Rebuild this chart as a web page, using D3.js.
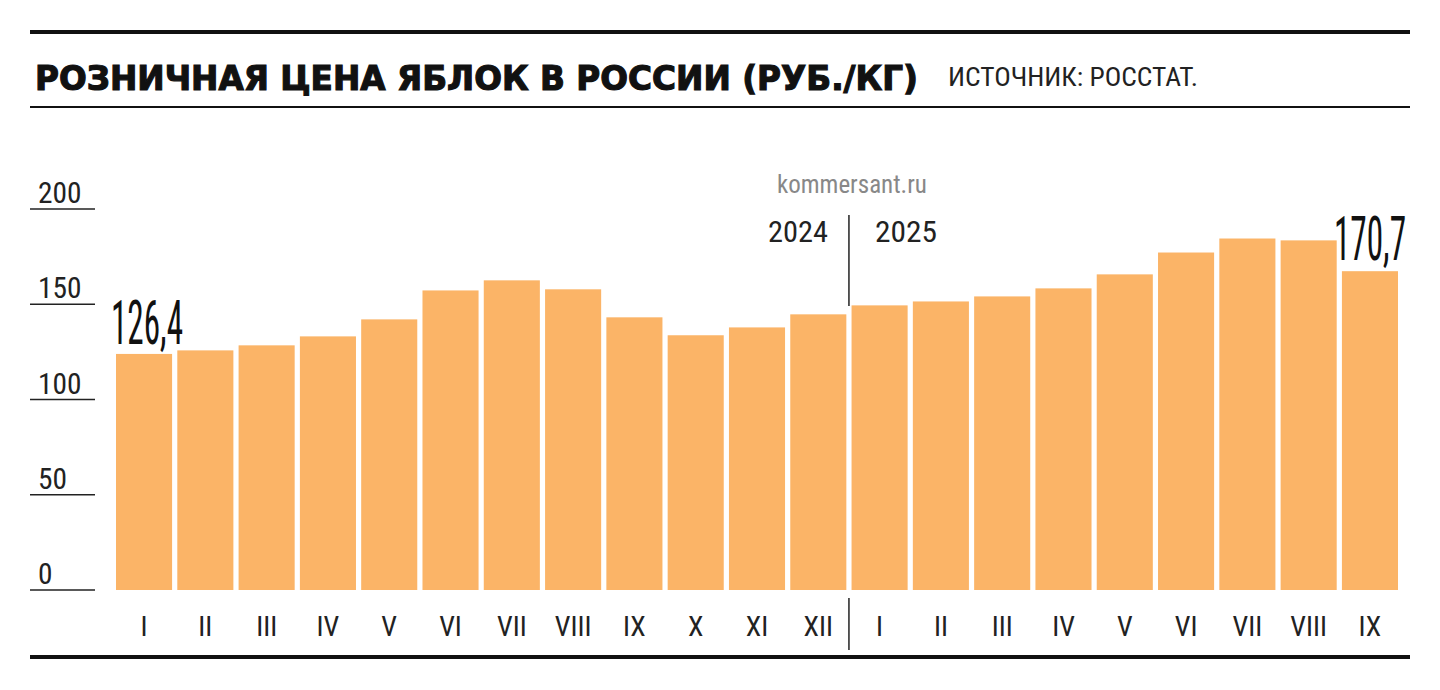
<!DOCTYPE html>
<html><head><meta charset="utf-8">
<script src="https://cdn.jsdelivr.net/npm/d3@7"></script>
<style>
body{margin:0;background:#fff}
text{font-family:"Liberation Sans Narrow","Roboto Condensed","Liberation Sans",sans-serif}
</style></head><body>
<script>
var months = ["I","II","III","IV","V","VI","VII","VIII","IX","X","XI","XII",
              "I","II","III","IV","V","VI","VII","VIII","IX"];
var prices = [126.4,128.3,131,135.8,144.9,160.4,165.8,161,146,136.4,140.6,147.6,
              152.4,154.5,157.2,161.5,169,180.7,188.2,187.2,170.7];
var yTicks = [0,50,100,150,200];

var width = 1440, height = 690;
var svg = d3.select("body").append("svg").attr("width", width).attr("height", height);

// rules
svg.append("rect").attr("x",30).attr("y",30).attr("width",1380).attr("height",4).attr("fill","#111");
svg.append("rect").attr("x",30).attr("y",106).attr("width",1380).attr("height",2).attr("fill","#111");
svg.append("rect").attr("x",30).attr("y",655).attr("width",1380).attr("height",4).attr("fill","#111");

svg.append("text").attr("x",35).attr("y",90).text("РОЗНИЧНАЯ ЦЕНА ЯБЛОК В РОССИИ (РУБ./КГ)")
    .attr("textLength",883).attr("lengthAdjust","spacingAndGlyphs")
    .style("font-family","'DejaVu Sans',sans-serif").style("font-weight","bold").style("font-size","34px")
    .attr("fill","#111").attr("stroke","#111").attr("stroke-width",1.2);
svg.append("text").attr("x",948).attr("y",86).text("ИСТОЧНИК: РОССТАТ.")
    .attr("textLength",250).attr("lengthAdjust","spacingAndGlyphs")
    .style("font-size","25px").attr("fill","#222");

var x = d3.scaleBand().domain(d3.range(months.length)).range([116, 1398]).paddingInner(0.085);
var y = d3.scaleLinear().domain([0, 204]).range([590, 209]);
// tick rules are drawn a touch above the data scale, as in the print
var yTick = d3.scaleLinear().domain([0, 200]).range([590, 209]);

var yt = svg.append("g");
yTicks.forEach(function(t){
    var yy = yTick(t);
    yt.append("line").attr("x1",30).attr("x2",95).attr("y1",yy).attr("y2",yy).attr("stroke","#222").attr("stroke-width",1.5);
    yt.append("text").attr("x",38).attr("y",yy-6).text(t).style("font-size","30px")
        .attr("textLength", String(t).length * 14.5).attr("lengthAdjust","spacingAndGlyphs").attr("fill","#222");
});

svg.append("g").selectAll("rect").data(prices).join("rect")
    .attr("x", function(d,i){ return x(i); })
    .attr("y", function(d){ return y(d); })
    .attr("width", x.bandwidth())
    .attr("height", function(d){ return y(0) - y(d); })
    .attr("fill","#fbb467");

svg.append("g").selectAll("text").data(months).join("text")
    .attr("x", function(d,i){ return x(i) + x.bandwidth()/2; })
    .attr("y", 636).attr("text-anchor","middle").text(function(d){ return d; })
    .style("font-size","28px").attr("fill","#222");

// value labels (tall condensed)
var fmt = function(v){ return String(v).replace(".", ","); };
svg.append("text").attr("x", x(0) - 5).attr("y", y(prices[0]) - 10).text(fmt(prices[0]))
    .style("font-size","62px").attr("textLength",72).attr("lengthAdjust","spacingAndGlyphs").attr("fill","#111");
svg.append("text").attr("x", x(20) + x.bandwidth() + 8 - 72).attr("y", y(prices[20]) - 11)
    .text(fmt(prices[20])).style("font-size","62px").attr("textLength",72).attr("lengthAdjust","spacingAndGlyphs").attr("fill","#111");

// year separator
var sx = (x(11) + x.bandwidth() + x(12)) / 2;
svg.append("line").attr("x1",sx).attr("x2",sx).attr("y1",215).attr("y2",306).attr("stroke","#222").attr("stroke-width",1.5);
svg.append("line").attr("x1",sx).attr("x2",sx).attr("y1",598).attr("y2",650).attr("stroke","#222").attr("stroke-width",1.5);
svg.append("text").attr("x",sx-21).attr("y",242).attr("text-anchor","end").text("2024").style("font-size","30px")
    .attr("textLength",60).attr("lengthAdjust","spacingAndGlyphs").attr("fill","#222");
svg.append("text").attr("x",sx+26).attr("y",242).text("2025").style("font-size","30px")
    .attr("textLength",62).attr("lengthAdjust","spacingAndGlyphs").attr("fill","#222");
svg.append("text").attr("x",sx+3).attr("y",193).attr("text-anchor","middle").text("kommersant.ru").style("font-size","25px").attr("fill","#888");
</script>
</body></html>
